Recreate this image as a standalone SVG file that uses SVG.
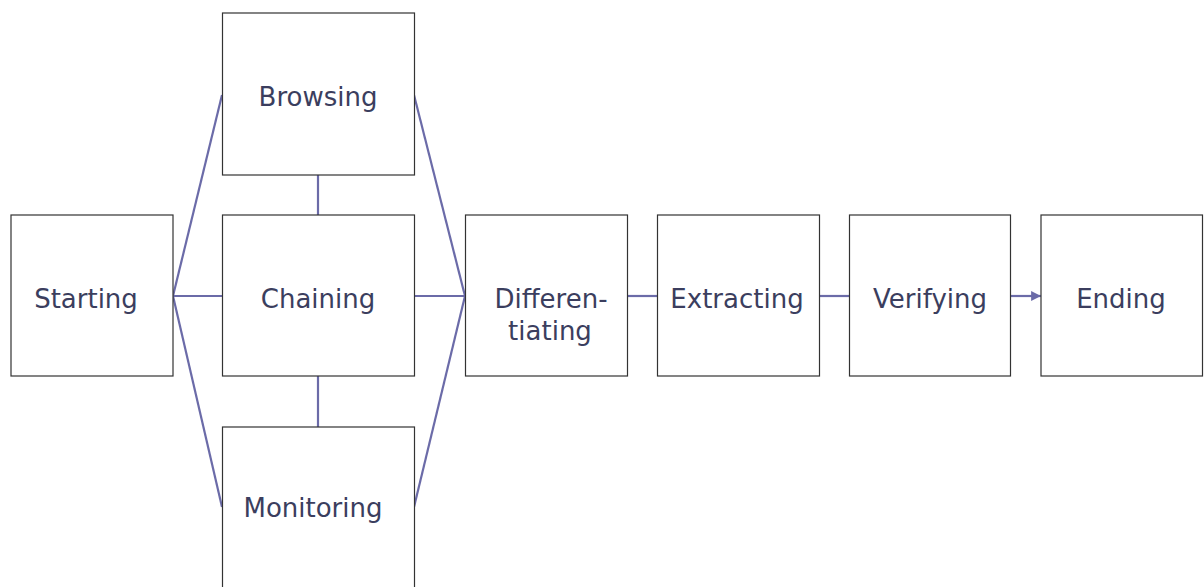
<svg xmlns="http://www.w3.org/2000/svg" width="1204" height="587" viewBox="0 0 1204 587">
<style>
.box{fill:#ffffff;stroke:#333333;stroke-width:1.2}
.lbl{font-family:"DejaVu Sans",Verdana,sans-serif;font-size:26px;fill:#3b3e5e;text-anchor:middle}
.con{stroke:#6b6ba8;stroke-width:2.2;fill:none}
</style>
<defs>
<marker id="arr" viewBox="0 0 10 10" refX="10" refY="5" markerWidth="4.5" markerHeight="4.5" orient="auto" markerUnits="strokeWidth">
<path d="M0,0 L10,5 L0,10 z" fill="#6b6ba8"/>
</marker>
</defs>
<rect width="1204" height="587" fill="#ffffff"/>
<g id="connectors">
<line class="con" x1="173" y1="296" x2="222" y2="95"/>
<line class="con" x1="173" y1="296" x2="222" y2="296"/>
<line class="con" x1="173" y1="296" x2="222" y2="507"/>
<line class="con" x1="318" y1="175" x2="318" y2="215"/>
<line class="con" x1="318" y1="376" x2="318" y2="427"/>
<line class="con" x1="414" y1="95" x2="465" y2="296"/>
<line class="con" x1="414" y1="296" x2="465" y2="296"/>
<line class="con" x1="414" y1="507" x2="465" y2="296"/>
<line class="con" x1="627" y1="296" x2="657" y2="296"/>
<line class="con" x1="819" y1="296" x2="849" y2="296"/>
<line class="con" x1="1010" y1="296" x2="1041" y2="296" marker-end="url(#arr)"/>
</g>
<g id="starting"><rect class="box" x="11" y="215" width="162" height="161"/><text class="lbl" x="86" y="308">Starting</text></g>
<g id="browsing"><rect class="box" x="222.5" y="13" width="192" height="162"/><text class="lbl" x="318" y="106">Browsing</text></g>
<g id="chaining"><rect class="box" x="222.5" y="215" width="192" height="161"/><text class="lbl" x="318" y="308">Chaining</text></g>
<g id="monitoring"><rect class="box" x="222.5" y="427" width="192" height="170"/><text class="lbl" x="313" y="517">Monitoring</text></g>
<g id="differentiating"><rect class="box" x="465.5" y="215" width="162" height="161"/><text class="lbl" x="551" y="308">Differen-</text><text class="lbl" x="550" y="340">tiating</text></g>
<g id="extracting"><rect class="box" x="657.5" y="215" width="162" height="161"/><text class="lbl" x="737" y="308">Extracting</text></g>
<g id="verifying"><rect class="box" x="849.5" y="215" width="161" height="161"/><text class="lbl" x="930" y="308">Verifying</text></g>
<g id="ending"><rect class="box" x="1041" y="215" width="161.5" height="161"/><text class="lbl" x="1121" y="308">Ending</text></g>
</svg>
